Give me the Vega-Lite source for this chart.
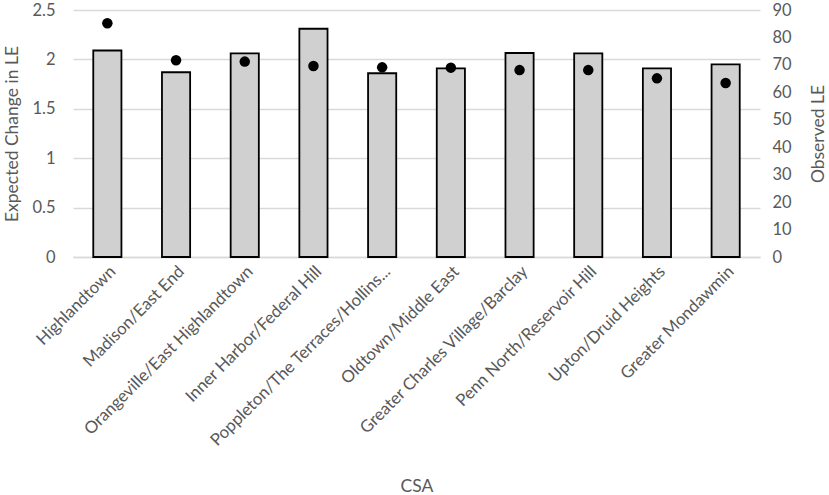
{
  "$schema": "https://vega.github.io/schema/vega-lite/v6.json",
  "width": 687,
  "height": 247,
  "autosize": {"type": "none"},
  "padding": {"left": 73, "top": 10, "right": 69, "bottom": 238},
  "background": "#ffffff",
  "view": {"stroke": null},
  "config": {
    "font": "Lato",
    "axis": {
      "labelFont": "Lato",
      "titleFont": "Lato",
      "labelColor": "#595959",
      "titleColor": "#595959",
      "labelFontSize": 16.5,
      "titleFontSize": 17.5,
      "titleFontWeight": "normal"
    }
  },
  "data": {
    "values": [
      {"csa": "Highlandtown", "change": 2.09, "observed": 85.2},
      {"csa": "Madison/East End", "change": 1.87, "observed": 71.7},
      {"csa": "Orangeville/East Highlandtown", "change": 2.06, "observed": 71.2},
      {"csa": "Inner Harbor/Federal Hill", "change": 2.31, "observed": 69.6},
      {"csa": "Poppleton/The Terraces/Hollins...", "change": 1.86, "observed": 69.1},
      {"csa": "Oldtown/Middle East", "change": 1.91, "observed": 69.0},
      {"csa": "Greater Charles Village/Barclay", "change": 2.065, "observed": 68.1},
      {"csa": "Penn North/Reservoir Hill", "change": 2.06, "observed": 68.1},
      {"csa": "Upton/Druid Heights", "change": 1.91, "observed": 65.1},
      {"csa": "Greater Mondawmin", "change": 1.95, "observed": 63.4}
    ]
  },
  "encoding": {
    "x": {
      "field": "csa",
      "type": "nominal",
      "sort": null,
      "scale": {"paddingInner": 0.59, "paddingOuter": 0.295},
      "axis": {
        "title": "CSA",
        "labelAngle": -45,
        "labelFontSize": 16.8,
        "labelLimit": 320,
        "ticks": false,
        "domainColor": "#d9d9d9",
        "domainWidth": 1.5,
        "labelPadding": 6,
        "titlePadding": 28
      }
    }
  },
  "layer": [
    {
      "mark": {"type": "bar", "fill": "#d0d0d0", "stroke": "#000000", "strokeWidth": 1.8},
      "encoding": {
        "y": {
          "field": "change",
          "type": "quantitative",
          "scale": {"domain": [0, 2.5]},
          "axis": {
            "title": "Expected Change in LE",
            "values": [0, 0.5, 1, 1.5, 2, 2.5],
            "format": "~r",
            "ticks": false,
            "domain": false,
            "gridColor": "#d9d9d9",
            "gridWidth": 1.5,
            "labelPadding": 18,
            "titlePadding": 10
          }
        }
      }
    },
    {
      "mark": {"type": "point", "filled": true, "color": "#000000", "size": 110, "opacity": 1},
      "encoding": {
        "y": {
          "field": "observed",
          "type": "quantitative",
          "scale": {"domain": [0, 90]},
          "axis": {
            "title": "Observed LE",
            "titleAngle": 270,
            "titleBaseline": "top",
            "orient": "right",
            "values": [0, 10, 20, 30, 40, 50, 60, 70, 80, 90],
            "ticks": false,
            "domain": false,
            "grid": false,
            "labelPadding": 12,
            "titlePadding": 18
          }
        }
      }
    }
  ],
  "resolve": {"scale": {"y": "independent"}}
}
